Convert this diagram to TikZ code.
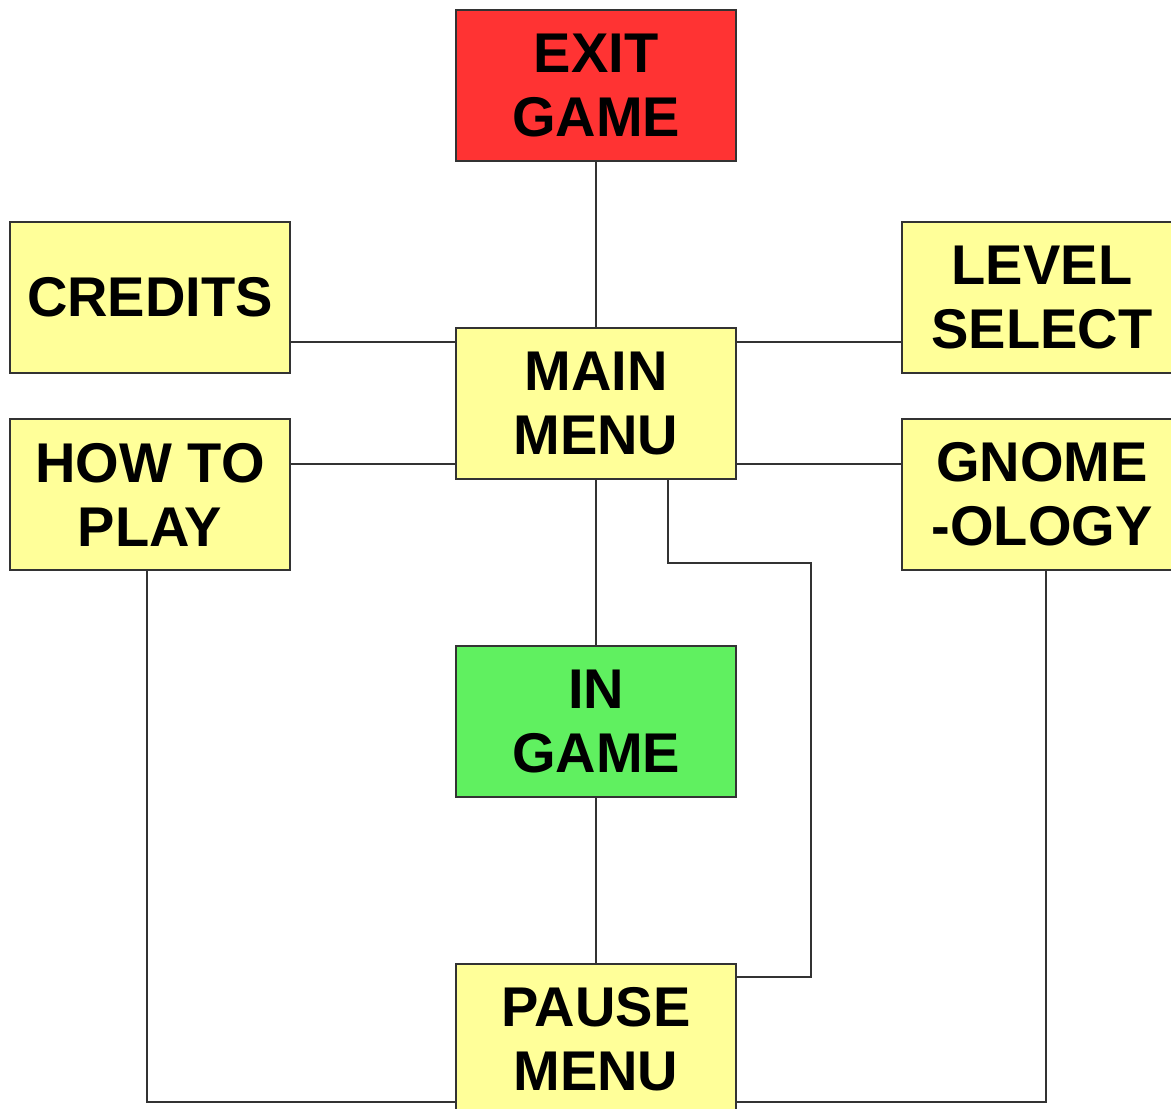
\documentclass[tikz,border=0pt]{standalone}
\usepackage{fontspec}
\setmainfont{Liberation Sans}
\usetikzlibrary{positioning,calc}
\definecolor{boxyellow}{RGB}{255,255,153}
\definecolor{exitred}{RGB}{255,51,51}
\definecolor{gamegreen}{RGB}{96,240,96}
\definecolor{edgegray}{RGB}{51,51,51}
\tikzset{
  screen/.style={draw=edgegray, line width=1pt, fill=boxyellow,
    minimum width=140pt, minimum height=75.5pt, inner sep=0pt, align=center,
    font=\fontsize{28pt}{32pt}\selectfont\bfseries},
  link/.style={draw=edgegray, line width=1pt}
}
\begin{document}
\begin{tikzpicture}[node distance=82.5pt]
      \fill[white] (-298pt,201.75pt) rectangle (287.5pt,-352.25pt);
      \useasboundingbox (-298pt,201.75pt) rectangle (287.5pt,-352.25pt);
      \node[screen](main){MAIN\\MENU};
      \node[screen,fill=exitred,above=of main](exit){EXIT\\GAME};
      \node[screen,fill=gamegreen,below=of main](ingame){IN\\GAME};
      \node[screen,below=of ingame](pause){PAUSE\\MENU};
      \node[screen,anchor=east](credits) at ([shift={(-82pt,53pt)}]main.west){CREDITS};
      \node[screen,anchor=east](howto) at ([shift={(-82pt,-45.5pt)}]main.west){HOW TO\\PLAY};
      \node[screen,anchor=west](level) at ([shift={(82pt,53pt)}]main.east){LEVEL\\SELECT};
      \node[screen,anchor=west](gnome) at ([shift={(82pt,-45.5pt)}]main.east){GNOME\\-OLOGY};

      \coordinate (mtl) at ([yshift=-7.5pt]main.north west);
      \coordinate (mtr) at ([yshift=-7.5pt]main.north east);
      \coordinate (mbl) at ([yshift=8pt]main.south west);
      \coordinate (mbr) at ([yshift=8pt]main.south east);
      \coordinate (loop) at ([xshift=36pt]main.south);
      \coordinate (prt) at ([yshift=-7pt]pause.north east);
      \coordinate (pbl) at ([yshift=7pt]pause.south west);
      \coordinate (pbr) at ([yshift=7pt]pause.south east);

      \draw[link] (exit) -- (main);
      \draw[link] (credits.east |- mtl) -- (mtl);
      \draw[link] (mtr) -- (level.west |- mtr);
      \draw[link] (howto.east |- mbl) -- (mbl);
      \draw[link] (mbr) -- (gnome.west |- mbr);
      \draw[link] (main) -- (ingame);
      \draw[link] (ingame) -- (pause);
      \draw[link] (loop) -- ++(0,-41.5pt) -| ([xshift=37pt]prt) -- (prt);
      \draw[link] ([xshift=-1.5pt]howto.south) |- (pbl);
      \draw[link] ([xshift=2pt]gnome.south) |- (pbr);
\end{tikzpicture}
\end{document}
